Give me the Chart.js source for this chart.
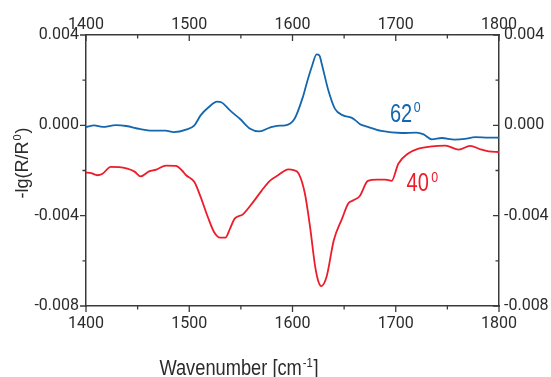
<!DOCTYPE html>
<html>
<head>
<meta charset="utf-8">
<script src="https://cdn.jsdelivr.net/npm/chart.js@4.4.1/dist/chart.umd.min.js"></script>
<style>
  html, body { margin: 0; padding: 0; background: #fff; }
</style>
</head>
<body>
<canvas id="c" width="551" height="377"></canvas>
<script>
// 62 deg spectrum
const wn62 = [1400,1408,1416,1429,1439,1452,1464,1477,1485,1497,1505,1511,1519,1527,1531,1539.5,1549,1559,1568,1578,1585,1593,1602,1610,1614,1618.6,1623.4,1626,1628.3,1634.7,1641,1649,1657,1661,1665,1673,1686,1706,1720,1727,1735,1744.5,1757,1767,1777,1790,1800];
const val62 = [-0.00007,0.00000,-0.00007,0.00001,-0.00003,-0.00016,-0.00023,-0.00023,-0.00030,-0.00019,0.00000,0.00044,0.00081,0.00105,0.00102,0.00066,0.00029,-0.00015,-0.00027,-0.00010,-0.00002,0.00000,0.00029,0.00125,0.00190,0.00258,0.00314,0.00310,0.00273,0.00155,0.00074,0.00044,0.00034,0.00022,0.00006,-0.00007,-0.00025,-0.00034,-0.00032,-0.00040,-0.00062,-0.00056,-0.00063,-0.00060,-0.00052,-0.00054,-0.00054];

// 40 deg spectrum
const wn40 = [1400,1405,1411,1416,1424,1432,1440,1447,1453,1461,1468,1477.5,1487,1493,1497,1505,1511,1518,1524,1530,1535,1539.5,1544,1552,1562,1570,1578,1586,1596,1601,1606,1612,1617,1622,1625,1628,1633,1640,1648,1654,1659,1665,1673,1682,1690,1696,1702.5,1712,1722,1735,1748,1761,1772,1782,1790,1800];
const val40 = [-0.00209,-0.00212,-0.00221,-0.00214,-0.00184,-0.00185,-0.00192,-0.00205,-0.00226,-0.00204,-0.00196,-0.00178,-0.00180,-0.00200,-0.00221,-0.00251,-0.00317,-0.00406,-0.00472,-0.00497,-0.00497,-0.00457,-0.00413,-0.00394,-0.00339,-0.00290,-0.00246,-0.00221,-0.00195,-0.00198,-0.00214,-0.00302,-0.00450,-0.00627,-0.00690,-0.00712,-0.00671,-0.00509,-0.00413,-0.00346,-0.00332,-0.00314,-0.00246,-0.00240,-0.00240,-0.00246,-0.00170,-0.00125,-0.00103,-0.00093,-0.00090,-0.00108,-0.00091,-0.00106,-0.00115,-0.00118];

const xTicks = [1400, 1500, 1600, 1700, 1800];
const yTicks = [-0.008, -0.004, 0, 0.004];

const TICKFONT = "Roboto, 'Liberation Sans', sans-serif";
const FONT = "'Liberation Sans', Arial, sans-serif";
const TXT = '#2b2b2b';
const AXIS = '#3a3a3a';
const BLUE = '#1467ae';
const RED = '#ec1c2a';

function pts(xs, ys) { return xs.map((x, i) => ({ x, y: ys[i] })); }

function isMajorY(v) { return yTicks.some(t => Math.abs(t - v) < 1e-9); }
function fmtY(v) { return isMajorY(v) ? (Math.abs(v) < 1e-9 ? '0.000' : v.toFixed(3)) : ''; }
function fmtX(v) { return xTicks.includes(v) ? String(v) : ''; }

// text run with superscripts, squeezed horizontally by sx to look condensed
function runs(ctx, parts, x, y, size, align, sx) {
  let total = 0;
  parts.forEach(p => {
    ctx.font = `${p.sup ? size * 0.62 : size}px ${FONT}`;
    p.w = ctx.measureText(p.t).width + (p.gap || 0);
    total += p.w;
  });
  ctx.save();
  ctx.translate(x, y);
  ctx.scale(sx, 1);
  let cx = align === 'center' ? -total / 2 : 0;
  parts.forEach(p => {
    ctx.font = `${p.sup ? size * 0.62 : size}px ${FONT}`;
    ctx.fillText(p.t, cx + (p.gap || 0), p.sup ? -size * 0.38 : 0);
    cx += p.w;
  });
  ctx.restore();
}

const decor = {
  id: 'decor',
  afterDraw(chart) {
    const { ctx, chartArea: ca, scales } = chart;
    ctx.save();
    // tick marks: left/bottom outward, top/right inward
    ctx.strokeStyle = AXIS;
    ctx.lineWidth = 1.3;
    ctx.beginPath();
    scales.x.ticks.forEach(t => {
      const px = scales.x.getPixelForValue(t.value);
      const len = xTicks.includes(t.value) ? 6 : 3.5;
      ctx.moveTo(px, ca.bottom); ctx.lineTo(px, ca.bottom + len);
      ctx.moveTo(px, ca.top); ctx.lineTo(px, ca.top + len);
    });
    scales.y.ticks.forEach(t => {
      const py = scales.y.getPixelForValue(t.value);
      const len = isMajorY(t.value) ? 6 : 3.5;
      ctx.moveTo(ca.left - len, py); ctx.lineTo(ca.left, py);
      ctx.moveTo(ca.right - len, py); ctx.lineTo(ca.right, py);
    });
    ctx.stroke();

    // axis titles
    ctx.fillStyle = TXT;
    ctx.textBaseline = 'alphabetic';
    ctx.textAlign = 'left';
    runs(ctx, [{ t: 'Wavenumber [cm' }, { t: '-1', sup: true, gap: 1 }, { t: ']', gap: 1 }], 239, 375, 22, 'center', 0.83);
    ctx.save();
    ctx.translate(28, 163);
    ctx.rotate(-Math.PI / 2);
    runs(ctx, [{ t: '-lg(R/R' }, { t: '0', sup: true, gap: 1 }, { t: ')', gap: 1 }], 0, 0, 18, 'center', 1);
    ctx.restore();

    // curve labels
    const lx = scales.x, ly = scales.y;
    ctx.fillStyle = BLUE;
    runs(ctx, [{ t: '62' }, { t: '0', sup: true, gap: 2 }], lx.getPixelForValue(1694.4), ly.getPixelForValue(0.000155), 25, 'left', 0.8);
    ctx.fillStyle = RED;
    runs(ctx, [{ t: '40' }, { t: '0', sup: true, gap: 3 }], lx.getPixelForValue(1710.5), ly.getPixelForValue(-0.00292), 25, 'left', 0.8);
    ctx.restore();
  }
};

const tickFont = { family: TICKFONT, size: 16 };
const border = { display: true, color: AXIS, width: 1.5 };
const noGrid = { display: true, drawOnChartArea: false, drawTicks: false };

new Chart(document.getElementById('c'), {
  type: 'line',
  data: {
    datasets: [
      { data: pts(wn62, val62), borderColor: BLUE, borderWidth: 1.8, pointRadius: 0, cubicInterpolationMode: 'monotone', fill: false },
      { data: pts(wn40, val40), borderColor: RED, borderWidth: 1.8, pointRadius: 0, cubicInterpolationMode: 'monotone', fill: false }
    ]
  },
  options: {
    responsive: false,
    animation: false,
    layout: { padding: 0 },
    plugins: { legend: { display: false }, tooltip: { enabled: false } },
    scales: {
      x: {
        type: 'linear', position: 'bottom', min: 1400, max: 1800,
        ticks: { stepSize: 50, autoSkip: false, maxRotation: 0, padding: 8, color: TXT, font: tickFont, callback: fmtX },
        grid: noGrid, border,
        afterFit: s => { s.height = 71; }
      },
      x2: {
        type: 'linear', position: 'top', min: 1400, max: 1800,
        ticks: { stepSize: 100, autoSkip: false, maxRotation: 0, padding: 0, color: TXT, font: tickFont, callback: fmtX },
        grid: noGrid, border,
        afterFit: s => { s.height = 35; }
      },
      y: {
        type: 'linear', position: 'left', min: -0.008, max: 0.004,
        ticks: { stepSize: 0.002, autoSkip: false, padding: 7, color: TXT, font: tickFont, callback: fmtY },
        grid: noGrid, border,
        afterFit: s => { s.width = 86; }
      },
      y2: {
        type: 'linear', position: 'right', min: -0.008, max: 0.004,
        ticks: { stepSize: 0.004, autoSkip: false, padding: 5, color: TXT, font: tickFont, callback: fmtY },
        grid: noGrid, border,
        afterFit: s => { s.width = 52; }
      }
    }
  },
  plugins: [decor]
});
</script>
</body>
</html>
